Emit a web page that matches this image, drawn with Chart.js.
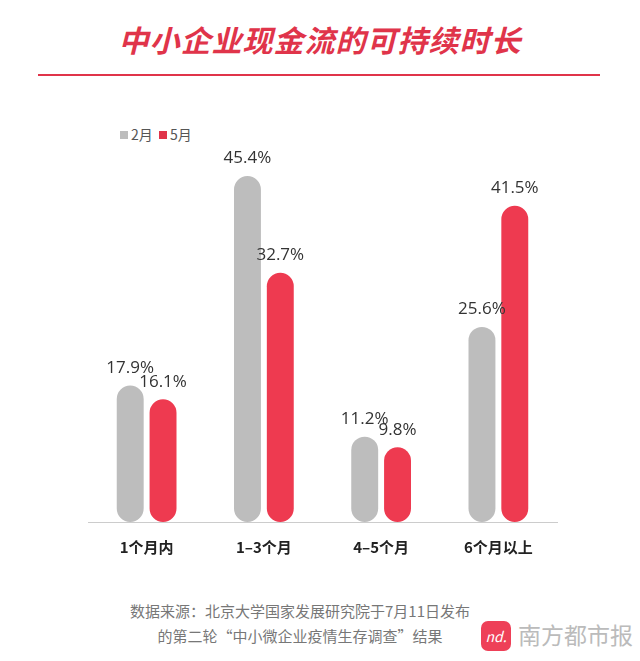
<!DOCTYPE html>
<html><head><meta charset="utf-8">
<script src="https://cdn.jsdelivr.net/npm/chart.js@4"></script>
<style>
body{margin:0;width:640px;height:661px;position:relative;background:#fff;font-family:"Noto Sans CJK SC",sans-serif;overflow:hidden}
#t{position:absolute;top:17px;left:0;width:640px;text-align:center;color:#e0344a;font-size:30px;font-weight:bold;font-style:italic;letter-spacing:1px}
#ln{position:absolute;top:74px;left:38px;width:562px;height:2px;background:#e0344a}
#lg{position:absolute;top:124px;left:120px;font-size:14px;color:#555}
#lg span.s{display:inline-block;width:8px;height:8px;margin-right:3px;vertical-align:1px}
#f{position:absolute;top:598px;left:120px;width:360px;text-align:center;font-size:15px;color:#777;line-height:25px}
#logo{position:absolute;top:621px;left:481px;width:30px;height:30px;border-radius:7px;background:#ee4058;color:#fff;font-size:14px;font-style:italic;text-align:center;line-height:30px}
#nm{position:absolute;top:617px;left:518px;font-size:23px;color:#bbb}
canvas{position:absolute;top:0;left:0}
</style></head><body>
<div id="t">中小企业现金流的可持续时长</div>
<div id="ln"></div>
<div id="lg"><span class="s" style="background:#bdbdbd"></span>2月&nbsp;&nbsp;<span class="s" style="background:#e0344a"></span>5月</div>
<div id="f">数据来源：北京大学国家发展研究院于7月11日发布<br>的第二轮“中小微企业疫情生存调查”结果</div>
<div id="logo">nd.</div><div id="nm">南方都市报</div>
<div style="position:absolute;left:0;top:0;width:640px;height:661px"><canvas id="c"></canvas></div>
<script>
const categories=["1个月内","1–3个月","4–5个月","6个月以上"];
const feb=[17.9,45.4,11.2,25.6];
const may=[16.1,32.7,9.8,41.5];
const labelPlugin={id:'lbl',afterDatasetsDraw(ch){const c=ch.ctx;c.save();c.font='17px "Open Sans",sans-serif';c.fillStyle='#333';c.textAlign='center';c.textBaseline='bottom';
ch.data.datasets.forEach((d,i)=>{ch.getDatasetMeta(i).data.forEach((b,j)=>{c.fillText(d.data[j].toFixed(1)+'%',b.x,b.y-9);});});c.restore();}};
new Chart(document.getElementById('c'),{type:'bar',
data:{labels:categories,datasets:[
{label:'2月',data:feb,backgroundColor:'#bdbdbd',borderRadius:14,borderSkipped:false},
{label:'5月',data:may,backgroundColor:'#ee3a50',borderRadius:14,borderSkipped:false}]},
options:{responsive:true,maintainAspectRatio:false,animation:false,
layout:{padding:{left:88,right:83,top:141,bottom:97}},
datasets:{bar:{categoryPercentage:0.56,barPercentage:0.82}},
plugins:{legend:{display:false},tooltip:{enabled:false}},
scales:{y:{display:false,min:0,max:50},
x:{grid:{display:false},border:{color:'#ccc',width:1},ticks:{color:'#222',font:{size:15,weight:'bold',family:'"Noto Sans CJK SC"'},padding:8}}}},
plugins:[labelPlugin]});
</script></body></html>
